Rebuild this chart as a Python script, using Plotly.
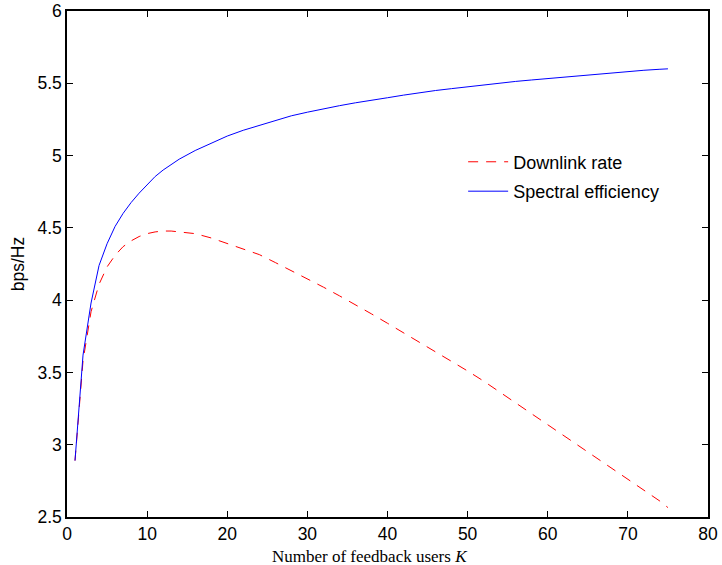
import plotly.graph_objects as go

# Number of feedback users K
k_values = [1, 2, 3, 4, 5, 6, 7, 8, 9, 10, 11, 12, 13, 14, 16, 18, 20, 22, 24, 26,
            28, 30, 32, 34, 36, 38, 40, 42, 44, 46, 48, 50, 52, 54, 56, 58, 60, 62,
            64, 66, 68, 70, 72, 74, 75]

# Downlink rate (bps/Hz)
downlink_rate = [2.89, 3.58, 3.92, 4.11, 4.23, 4.31, 4.37, 4.41, 4.44, 4.46, 4.472,
                 4.478, 4.478, 4.472, 4.46, 4.43, 4.39, 4.35, 4.315, 4.26, 4.205,
                 4.145, 4.09, 4.03, 3.97, 3.905, 3.84, 3.775, 3.71, 3.645, 3.58,
                 3.51, 3.44, 3.365, 3.29, 3.215, 3.14, 3.065, 2.99, 2.915, 2.84,
                 2.76, 2.685, 2.61, 2.565]

# Spectral efficiency (bps/Hz)
spectral_eff = [2.89, 3.62, 3.98, 4.24, 4.39, 4.51, 4.60, 4.675, 4.74, 4.80, 4.855,
                4.90, 4.94, 4.975, 5.035, 5.087, 5.135, 5.175, 5.21, 5.245, 5.275,
                5.30, 5.325, 5.345, 5.365, 5.385, 5.40, 5.418, 5.435, 5.45, 5.463,
                5.476, 5.49, 5.502, 5.513, 5.523, 5.533, 5.543, 5.553, 5.563,
                5.573, 5.582, 5.59, 5.597, 5.60]

x_ticks = [0, 10, 20, 30, 40, 50, 60, 70, 80]
y_ticks = [2.5, 3, 3.5, 4, 4.5, 5, 5.5, 6]
y_tick_text = ["2.5", "3", "3.5", "4", "4.5", "5", "5.5", "6"]

SANS = "Liberation Sans, Arial, Helvetica, sans-serif"
SERIF = "Liberation Serif, Times New Roman, serif"

fig = go.Figure()
fig.add_trace(go.Scatter(
    x=k_values, y=downlink_rate, mode="lines", name="Downlink rate",
    legendgroup="rate",
    line=dict(color="#ff0000", width=1, dash="10px,8px"),
))
fig.add_trace(go.Scatter(
    x=k_values, y=spectral_eff, mode="lines", name="Spectral efficiency",
    legendgroup="se",
    line=dict(color="#0000ff", width=1),
))

axis_common = dict(
    showline=True, linecolor="black", linewidth=1.5, mirror="ticks",
    ticks="inside", ticklen=6, tickcolor="black", tickwidth=1,
    showgrid=False, zeroline=False, automargin=False,
    tickfont=dict(family=SANS, size=17.5, color="black"),
)

fig.update_layout(
    width=722, height=565,
    margin=dict(l=67, r=14, t=11, b=48),
    paper_bgcolor="white", plot_bgcolor="white",
    showlegend=True,
    legend=dict(
        x=0.618, y=0.738, xanchor="left", yanchor="top",
        bgcolor="rgba(0,0,0,0)", borderwidth=0,
        font=dict(family=SANS, size=18, color="black"),
        tracegroupgap=3, itemwidth=40,
    ),
    xaxis=dict(range=[0, 80], tickvals=x_ticks, **axis_common),
    yaxis=dict(
        range=[2.5, 6], tickvals=y_ticks, ticktext=y_tick_text,
        title=dict(text="bps/Hz", standoff=8,
                   font=dict(family=SANS, size=17.5, color="black")),
        **axis_common,
    ),
    annotations=[dict(
        text="Number of feedback users <i>K</i>",
        xref="paper", yref="paper", x=0.4727, y=0,
        xanchor="center", yanchor="top", yshift=-28, showarrow=False,
        font=dict(family=SERIF, size=17, color="black"),
    )],
)

fig.write_html("out.html")
